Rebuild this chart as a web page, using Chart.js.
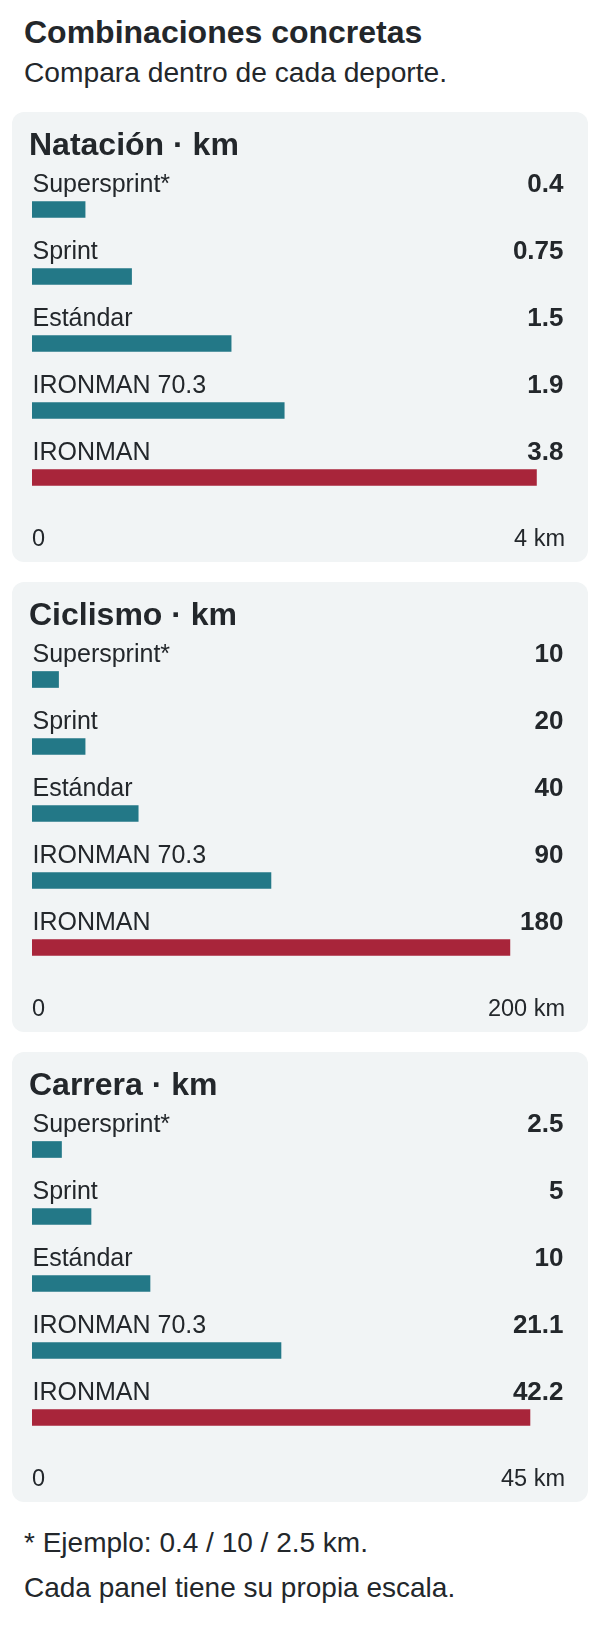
<!DOCTYPE html>
<html lang="es">
<head>
<meta charset="utf-8">
<script src="https://cdn.jsdelivr.net/npm/chart.js@4"></script>
<style>
  html, body { margin: 0; padding: 0; background: #ffffff; }
  body { width: 600px; height: 1640px; position: relative; font-family: "Liberation Sans", Arial, sans-serif; color: #23272b; }
  .txt { position: absolute; left: 24px; white-space: nowrap; line-height: 1; }
  #title { top: 16px; font-size: 32px; font-weight: bold; }
  #subtitle { top: 58.3px; font-size: 28.2px; }
  .panel { position: absolute; left: 12px; width: 576px; height: 450px; background: #f1f4f5; border-radius: 12px; }
  .panel canvas { position: absolute; left: 0; top: 0; }
  #note1 { top: 1529.3px; font-size: 28px; }
  #note2 { top: 1574.3px; font-size: 28px; }
</style>
</head>
<body>
<div id="title" class="txt">Combinaciones concretas</div>
<div id="subtitle" class="txt">Compara dentro de cada deporte.</div>
<div class="panel" style="top:112px"><canvas id="c0" width="576" height="450"></canvas></div>
<div class="panel" style="top:582px"><canvas id="c1" width="576" height="450"></canvas></div>
<div class="panel" style="top:1052px"><canvas id="c2" width="576" height="450"></canvas></div>
<div id="note1" class="txt">* Ejemplo: 0.4 / 10 / 2.5 km.</div>
<div id="note2" class="txt">Cada panel tiene su propia escala.</div>
<script>
// ---- data ----
const categories = ['Supersprint*', 'Sprint', 'Estándar', 'IRONMAN 70.3', 'IRONMAN'];
const panelTitles = ['Natación · km', 'Ciclismo · km', 'Carrera · km'];
const swimKm = [0.4, 0.75, 1.5, 1.9, 3.8];
const bikeKm = [10, 20, 40, 90, 180];
const runKm = [2.5, 5, 10, 21.1, 42.2];
const scaleMax = [4, 200, 45];
const tickValues = [[0, 4], [0, 200], [0, 45]];
const tickLabels = [['0', '4 km'], ['0', '200 km'], ['0', '45 km']];
const seriesList = [swimKm, bikeKm, runKm];

// ---- styles ----
const TEAL = '#237887';
const RED = '#a8253a';
const TEXT = '#23272b';
const FONT = '"Liberation Sans", Arial, sans-serif';

const labelPlugin = {
  id: 'panelText',
  afterDatasetsDraw(chart) {
    const ctx = chart.ctx;
    const idx = chart.options.plugins.panelText.index;
    const vals = chart.data.datasets[0].data;
    const meta = chart.getDatasetMeta(0);
    const area = chart.chartArea;
    const xs = chart.scales.x;
    ctx.save();
    ctx.fillStyle = TEXT;
    ctx.textBaseline = 'alphabetic';
    // heading
    ctx.font = 'bold 32px ' + FONT;
    ctx.textAlign = 'left';
    ctx.fillText(panelTitles[idx], 17, 43);
    // labels and values
    meta.data.forEach((bar, i) => {
      const base = bar.y - 17.5;
      ctx.font = '25px ' + FONT;
      ctx.textAlign = 'left';
      ctx.fillText(chart.data.labels[i], area.left + 0.5, base);
      ctx.font = 'bold 26px ' + FONT;
      ctx.textAlign = 'right';
      ctx.fillText(String(vals[i]), 551.5, base);
    });
    // axis ticks
    ctx.font = '23.5px ' + FONT;
    tickValues[idx].forEach((v, j) => {
      const px = xs.getPixelForValue(v);
      ctx.textAlign = j === 0 ? 'left' : 'right';
      ctx.fillText(tickLabels[idx][j], j === 0 ? px : px + 2, 434);
    });
    ctx.restore();
  }
};

seriesList.forEach((series, idx) => {
  new Chart(document.getElementById('c' + idx), {
    type: 'bar',
    data: {
      labels: categories,
      datasets: [{
        data: series,
        backgroundColor: series.map((v, i) => i === series.length - 1 ? RED : TEAL),
        borderWidth: 0,
        barThickness: 16
      }]
    },
    options: {
      indexAxis: 'y',
      responsive: false,
      animation: false,
      devicePixelRatio: 1,
      layout: { padding: { left: 20, right: 25, top: 64, bottom: 51 } },
      scales: {
        x: { display: false, min: 0, max: scaleMax[idx] },
        y: { display: false }
      },
      plugins: {
        legend: { display: false },
        tooltip: { enabled: false },
        panelText: { index: idx }
      }
    },
    plugins: [labelPlugin]
  });
});
</script>
</body>
</html>
